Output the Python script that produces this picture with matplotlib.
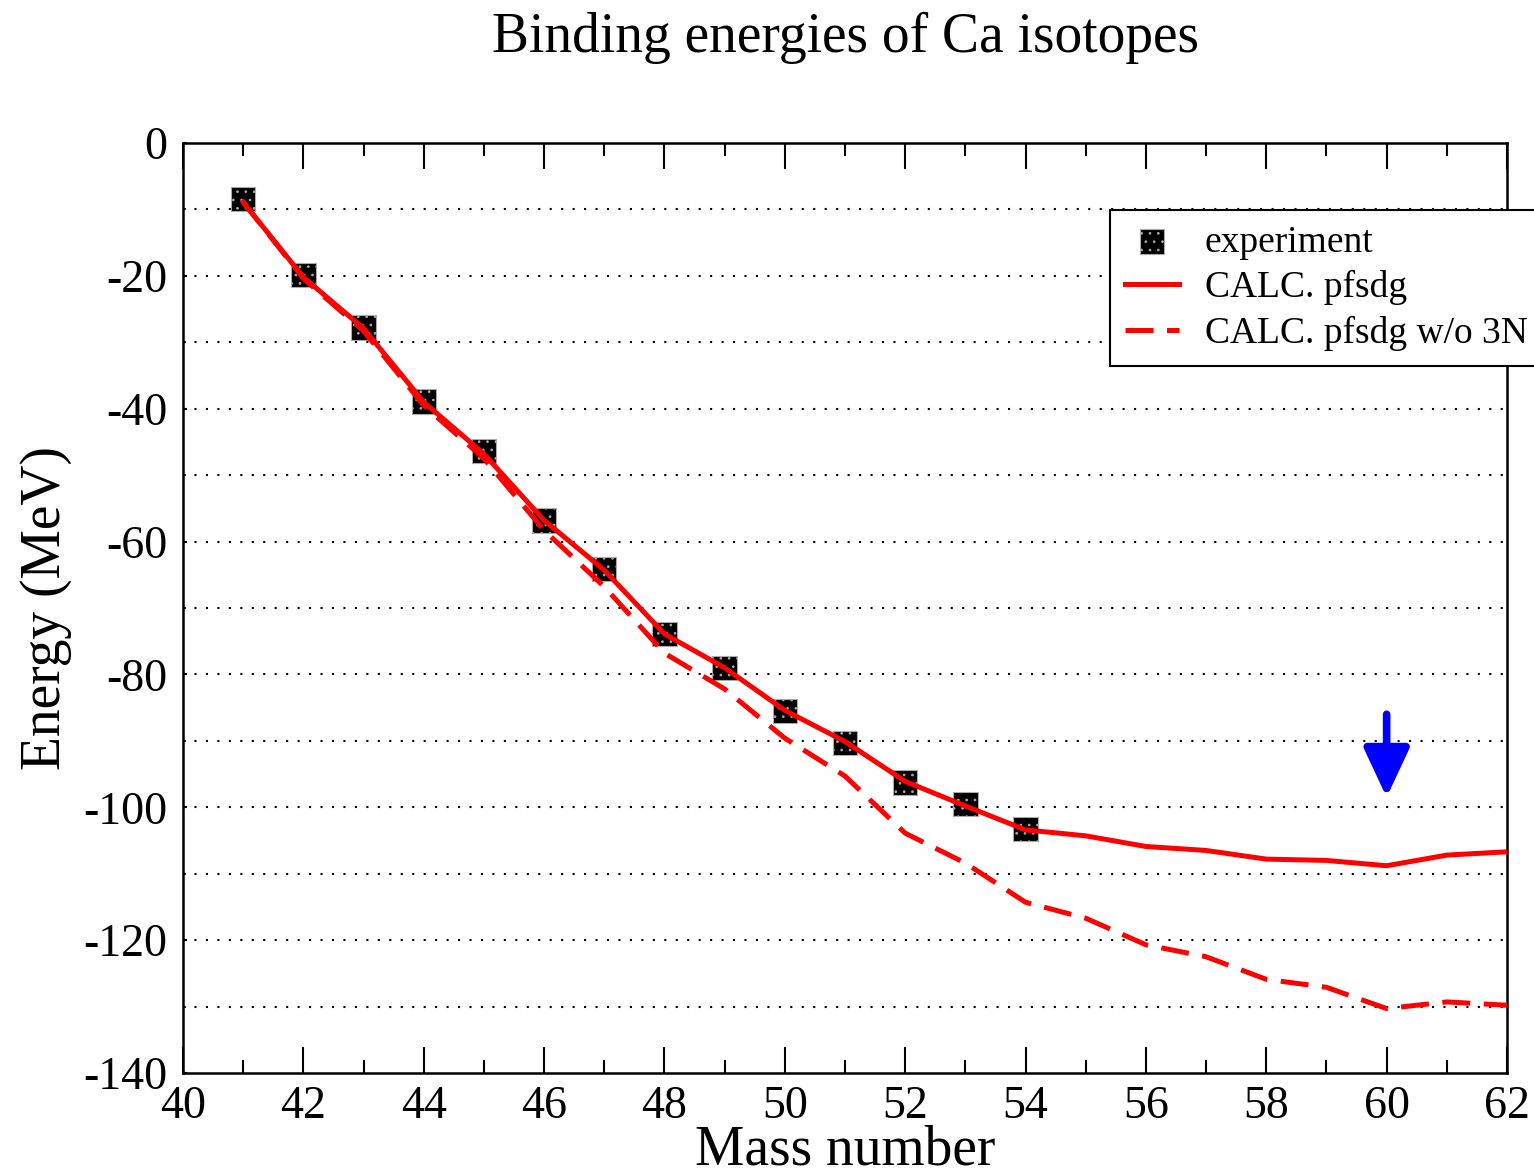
import numpy as np
import matplotlib
matplotlib.use("Agg")
import matplotlib.pyplot as plt
from matplotlib.ticker import MultipleLocator

plt.rcParams['font.family'] = 'serif'
plt.rcParams['font.serif'] = ['Liberation Serif', 'DejaVu Serif']
plt.rcParams['hatch.color'] = 'white'
plt.rcParams['hatch.linewidth'] = 0.7

# Ca isotope binding energies relative to 40Ca (MeV)
exp_mass = [41, 42, 43, 44, 45, 46, 47, 48, 49, 50, 51, 52, 53, 54]
exp_energy = [-8.4, -19.9, -27.8, -38.9, -46.4, -56.8, -64.1, -73.9,
              -79.0, -85.5, -90.3, -96.3, -99.5, -103.3]

calc_mass = list(range(41, 63))
calc_pfsdg = [-8.9, -20.2, -27.9, -39.0, -46.8, -56.8, -64.3, -73.9,
              -79.0, -85.4, -90.1, -96.1, -99.8, -103.4, -104.3, -105.9,
              -106.5, -107.8, -108.0, -108.8, -107.2, -106.7]
calc_no3n = [-8.9, -20.4, -28.3, -39.5, -47.5, -58.3, -66.8, -76.8,
             -82.2, -89.6, -95.3, -103.9, -108.4, -114.3, -116.7, -120.7,
             -122.5, -125.9, -127.1, -130.3, -129.3, -129.8]

# drip-line marker
arrow_x = 60
arrow_from = -86.0
arrow_to = -98.5

fig = plt.figure(figsize=(15.34, 11.72), dpi=100)
ax = fig.add_axes([183 / 1534, 1 - 1073 / 1172, 1324 / 1534, 930 / 1172])

ax.set_xlim(40, 62)
ax.set_ylim(-140, 0)

for y in np.arange(-130, 0, 10):
    ax.axhline(y, color='black', lw=1.5, linestyle=(0, (1, 4.5)), zorder=1)

ax.scatter(exp_mass, exp_energy, marker='s', s=310, facecolor='black',
           edgecolor='#aaaaaa', linewidths=0.8, hatch='..', zorder=3,
           label='experiment')
ax.plot(calc_mass, calc_pfsdg, color='red', lw=3.6, zorder=4,
        label='CALC. pfsdg')
ax.plot(calc_mass, calc_no3n, color='red', lw=3.6, linestyle=(0, (5.6, 2.7)),
        zorder=4, label='CALC. pfsdg w/o 3N')

ax.annotate('', xy=(arrow_x, arrow_to), xytext=(arrow_x, arrow_from),
            arrowprops=dict(arrowstyle='-|>,head_width=0.7,head_length=1.5',
                            color='blue', lw=5.5, mutation_scale=20,
                            shrinkA=0, shrinkB=0), zorder=5)

ax.xaxis.set_major_locator(MultipleLocator(2))
ax.xaxis.set_minor_locator(MultipleLocator(1))
ax.yaxis.set_major_locator(MultipleLocator(20))
ax.yaxis.set_minor_locator(MultipleLocator(10))
ax.tick_params(axis='x', which='major', direction='in', length=19, width=1.5,
               top=True, labelsize=33, pad=9)
ax.tick_params(axis='x', which='minor', direction='in', length=9.5, width=1.5,
               top=True)
ax.tick_params(axis='y', which='major', direction='in', length=3, width=1.5,
               labelsize=33, pad=11)
ax.tick_params(axis='y', which='minor', direction='in', length=2, width=1.2)
ax.set_xticklabels([str(int(v)) for v in ax.get_xticks()])
ax.set_yticklabels([str(int(v)) for v in ax.get_yticks()])

for s in ax.spines.values():
    s.set_linewidth(1.8)

ax.set_xlabel('Mass number', fontsize=40)
ax.xaxis.set_label_coords(0.5, -0.0988)
ax.xaxis.label.set_va('baseline')
ax.set_ylabel('Energy (MeV)', fontsize=40)
ax.yaxis.set_label_coords(-0.084, 0.5)

fig.text(846 / 1534, 1 - 52 / 1172, 'Binding energies of Ca isotopes',
         fontsize=40, ha='center', va='baseline')

leg = ax.legend(loc='upper left', bbox_to_anchor=(1110 / 1534, 1 - 210 / 1172),
                bbox_transform=fig.transFigure, borderaxespad=0, fontsize=27,
                frameon=True, fancybox=False, edgecolor='black', framealpha=1,
                handlelength=1.45, handletextpad=0.68, labelspacing=0.28,
                borderpad=0.4, scatterpoints=1)
leg.get_frame().set_linewidth(1.5)

fig.savefig('out.png', dpi=100, facecolor='white')
